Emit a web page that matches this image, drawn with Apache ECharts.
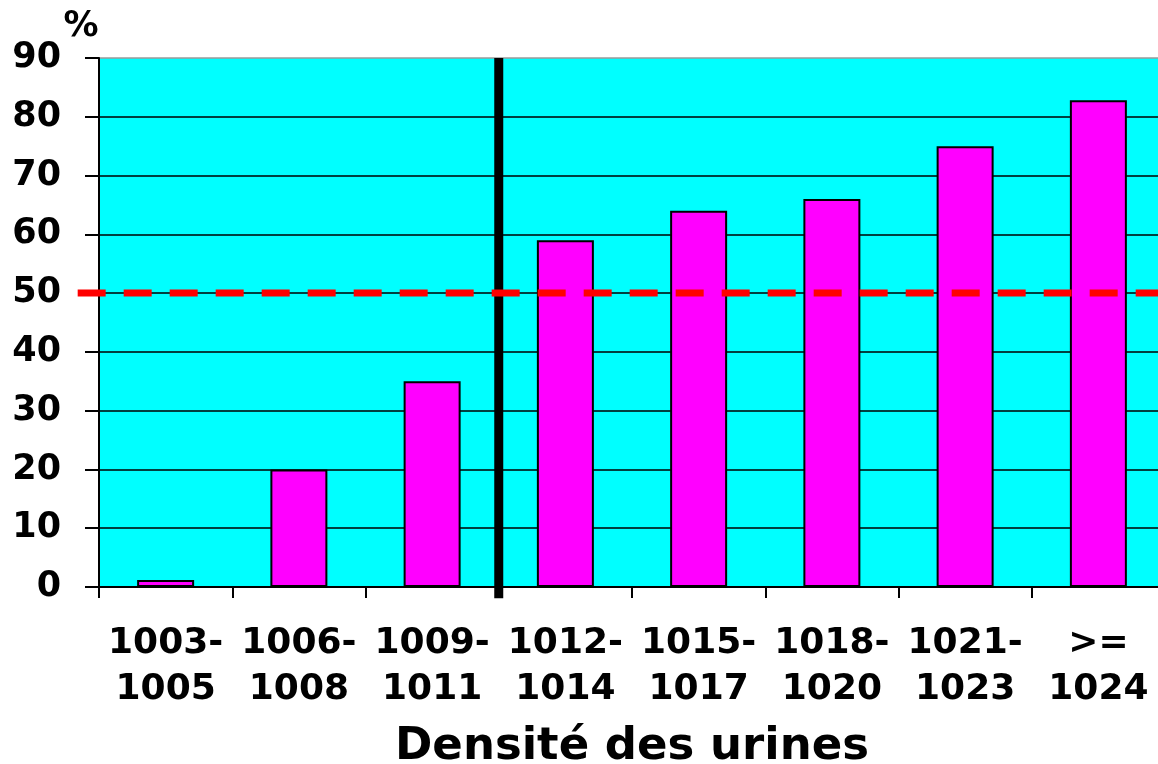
<!DOCTYPE html>
<html>
<head>
<meta charset="utf-8">
<script src="https://cdn.jsdelivr.net/npm/echarts@6/dist/echarts.min.js"></script>
<style>
html,body{margin:0;padding:0;background:#fff;}
#chart{width:1158px;height:764px;}
</style>
</head>
<body>
<div id="chart"></div>
<script>
// Categories (urine density ranges)
const categories = ['1003-\n1005', '1006-\n1008', '1009-\n1011', '1012-\n1014', '1015-\n1017', '1018-\n1020', '1021-\n1023', '>=\n1024'];
// Percentage values
const values = [1.2, 20, 35, 59, 64, 66, 75, 82.8];
// Reference threshold line (50 %): [xStart, y, xEnd, y] in category-slot units, starting slightly left of the axis
const thresholdLine = [[-0.16, 50, 8, 50]];
// Vertical separator between 1009-1011 and 1012-1014 (category boundary 3)
const separatorLine = [[3, -1.9, 3, 90]];
const yTicks = {min: 0, max: 90, interval: 10};

const FONT = 'DejaVu Sans';
const chart = echarts.init(document.getElementById('chart'), null, {renderer: 'canvas'});

const splitColors = [];
for (let i = 0; i < 9; i++) splitColors.push('#000000');
splitColors.push('#9a9a9a');

function segmentRenderer(stroke, width, dash) {
  return function (params, api) {
    const p1 = api.coord([api.value(0), api.value(1)]);
    const p2 = api.coord([api.value(2), api.value(3)]);
    return {
      type: 'line',
      shape: {x1: p1[0], y1: p1[1], x2: p2[0], y2: p2[1]},
      style: {stroke: stroke, lineWidth: width, lineDash: dash, lineCap: 'butt', fill: null}
    };
  };
}

chart.setOption({
  animation: false,
  backgroundColor: '#ffffff',
  grid: {
    left: 99, width: 1066, top: 58, height: 529,
    outerBoundsMode: 'none',
    containLabel: false,
    show: true, backgroundColor: '#00FFFF', borderWidth: 0
  },
  xAxis: [{
    type: 'category',
    data: categories,
    axisLine: {lineStyle: {color: '#000', width: 2}},
    axisTick: {show: true, length: 11, interval: 0, lineStyle: {color: '#000', width: 2}},
    axisLabel: {
      interval: 0, margin: 34, color: '#000',
      fontFamily: FONT, fontWeight: 'bold', fontSize: 36, lineHeight: 46
    },
    name: 'Densité des urines',
    nameLocation: 'middle',
    nameGap: 138,
    nameTextStyle: {color: '#000', fontFamily: FONT, fontWeight: 'bold', fontSize: 45}
  }, {
    type: 'value', min: 0, max: 8, show: false
  }],
  yAxis: {
    type: 'value',
    min: yTicks.min, max: yTicks.max, interval: yTicks.interval,
    name: '%',
    nameLocation: 'end',
    nameGap: 31,
    nameMoveOverlap: false,
    nameTextStyle: {color: '#000', fontFamily: FONT, fontWeight: 'bold', fontSize: 35, verticalAlign: 'middle', padding: [0, 36, 0, 0]},
    axisLine: {show: true, lineStyle: {color: '#000', width: 2}},
    axisTick: {show: true, length: 14, lineStyle: {color: '#000', width: 2}},
    axisLabel: {margin: 38, color: '#000', fontFamily: FONT, fontWeight: 'bold', fontSize: 35},
    splitLine: {show: true, lineStyle: {color: splitColors, width: 1.5}}
  },
  series: [{
    type: 'bar',
    data: values,
    barWidth: 57,
    itemStyle: {color: '#FF00FF', borderColor: '#000', borderWidth: 2},
    z: 2
  }, {
    type: 'custom',
    xAxisIndex: 1,
    data: separatorLine,
    encode: {x: [0, 2], y: [1, 3]},
    renderItem: segmentRenderer('#000000', 9, null),
    clip: false,
    z: 5,
    silent: true
  }, {
    type: 'custom',
    xAxisIndex: 1,
    data: thresholdLine,
    encode: {x: [0, 2], y: [1, 3]},
    renderItem: segmentRenderer('#FF0000', 7, [28, 18]),
    clip: false,
    z: 6,
    silent: true
  }]
});
</script>
</body>
</html>
